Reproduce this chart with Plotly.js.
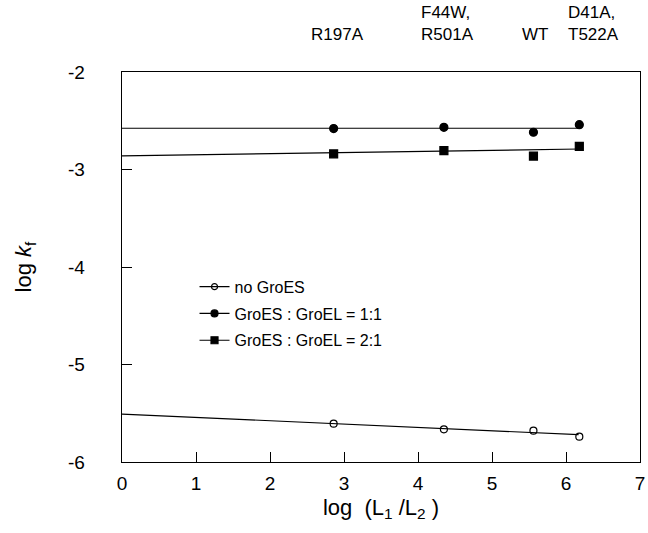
<!DOCTYPE html>
<html>
<head>
<meta charset="utf-8">
<script src="https://cdn.plot.ly/plotly-3.0.1.min.js"></script>
<style>html,body{margin:0;padding:0;background:#fff;}#chart{width:648px;height:533px;}</style>
</head>
<body>
<div id="chart"></div>
<script>
// Data
const mutants = ['R197A', 'F44W,<br>R501A', 'WT', 'D41A,<br>T522A'];
const logRatio = [2.86, 4.35, 5.56, 6.18];
const noGroES = [-5.607, -5.665, -5.679, -5.74];
const groES11 = [-2.58, -2.567, -2.618, -2.54];
const groES21 = [-2.84, -2.807, -2.862, -2.762];
// fitted regression lines (endpoints as drawn)
const fitXnoGroES = [0, 6.17];
const fitYnoGroES = [-5.508, -5.72];
const fitX11 = [0, 6.19];
const fitY11 = [-2.577, -2.577];
const fitX21 = [0, 6.19];
const fitY21 = [-2.86, -2.79];
const seriesNames = ['no GroES', 'GroES : GroEL = 1:1', 'GroES : GroEL = 2:1'];
const xTickVals = [0, 1, 2, 3, 4, 5, 6, 7];
const xTickText = ['0', '1', '2', '3', '4', '5', '6', '7'];
const yTickVals = [-6, -5, -4, -3, -2];
const yTickText = ['-6', '-5', '-4', '-3', '-2'];

const FONT = 'Arial, "Liberation Sans", Helvetica, sans-serif';
const black = '#000';

function fitTrace(x, y, grp) {
  return {x: x, y: y, mode: 'lines', line: {color: black, width: 1.2}, showlegend: false, hoverinfo: 'skip', legendgroup: grp};
}
function pts(y, sym, size, grp) {
  return {x: logRatio, y: y, mode: 'markers', marker: {symbol: sym, size: size, color: black, line: {color: black, width: 1.2}}, showlegend: false, legendgroup: grp};
}
function leg(name, sym, size, grp) {
  return {x: [null], y: [null], name: name, mode: 'lines+markers', legendgroup: grp,
    line: {color: black, width: 1.2}, marker: {symbol: sym, size: size, color: black, line: {color: black, width: 1.2}}};
}

const traces = [
  fitTrace(fitXnoGroES, fitYnoGroES, 'a'),
  fitTrace(fitX11, fitY11, 'b'),
  fitTrace(fitX21, fitY21, 'c'),
  pts(noGroES, 'circle-open', 7, 'a'),
  pts(groES11, 'circle', 8, 'b'),
  pts(groES21, 'square', 8, 'c'),
  leg(seriesNames[0], 'circle-open', 6, 'a'),
  leg(seriesNames[1], 'circle', 7, 'b'),
  leg(seriesNames[2], 'square', 7, 'c')
];

const xshifts = [4, 4, 2, 14];
const annotations = mutants.map((m, i) => ({
  x: logRatio[i], xref: 'x', y: 1.066, yref: 'paper', yanchor: 'bottom', xanchor: 'center',
  text: m, align: 'left', showarrow: false, xshift: xshifts[i],
  font: {family: FONT, size: 17, color: black}
}));

const layout = {
  width: 648, height: 533,
  margin: {l: 122, r: 8, t: 72, b: 71},
  paper_bgcolor: '#fff', plot_bgcolor: '#fff',
  font: {family: FONT, color: black},
  showlegend: true,
  legend: {x: 0.14, y: 0.493, xanchor: 'left', yanchor: 'top', bgcolor: 'rgba(0,0,0,0)',
    font: {family: FONT, size: 16, color: black}, traceorder: 'grouped', tracegroupgap: 3},
  xaxis: {range: [0, 7], tickmode: 'array', tickvals: xTickVals, ticktext: xTickText,
    showgrid: false, zeroline: false,
    showline: true, linecolor: black, linewidth: 1.3, mirror: true,
    ticks: 'inside', ticklen: 10, tickcolor: black, tickwidth: 1,
    tickfont: {family: FONT, size: 19, color: black}, ticklabelstandoff: 4,
    title: {text: 'log  (L<sub>1</sub> /L<sub>2</sub> )', font: {family: FONT, size: 22, color: black}, standoff: 6}},
  yaxis: {range: [-6, -2], tickmode: 'array', tickvals: yTickVals, ticktext: yTickText,
    showgrid: false, zeroline: false,
    showline: true, linecolor: black, linewidth: 1.3, mirror: true,
    ticks: 'inside', ticklen: 10, tickcolor: black, tickwidth: 1,
    tickfont: {family: FONT, size: 19, color: black}, ticklabelstandoff: 32,
    title: {text: 'log <i>k</i><sub>f</sub>', font: {family: FONT, size: 22, color: black}, standoff: 30}},
  annotations: annotations
};

Plotly.newPlot('chart', traces, layout, {displayModeBar: false, staticPlot: true});
</script>
</body>
</html>
